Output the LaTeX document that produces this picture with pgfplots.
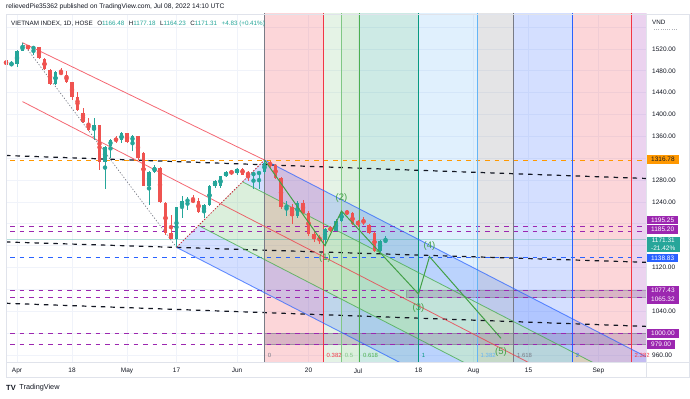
\documentclass[border=0pt]{standalone}
\usepackage{fontspec}
\setmainfont{Liberation Sans}
\usepackage{pgfplots}
\usepackage{pgfplotstable}
\pgfplotsset{compat=1.18}
\definecolor{tvup}{HTML}{26A69A}
\definecolor{tvdown}{HTML}{EF5350}
\definecolor{tvred}{HTML}{F23645}
\definecolor{tvgray}{HTML}{787B86}
\definecolor{tvlgreen}{HTML}{81C784}
\definecolor{tvgreen}{HTML}{4CAF50}
\definecolor{tvteal}{HTML}{089981}
\definecolor{tvlblue}{HTML}{64B5F6}
\definecolor{tvblue}{HTML}{2962FF}
\definecolor{tvpurple}{HTML}{9C27B0}
\definecolor{tvorange}{HTML}{FF9800}
\definecolor{tvtext}{HTML}{131722}
\definecolor{tvgrid}{HTML}{F0F3FA}
\definecolor{tvborder}{HTML}{E0E3EB}
\definecolor{wavegreen}{HTML}{43A047}
\tikzset{
  zlab/.style={anchor=base west, inner sep=0pt, xshift=3.2bp, yshift=4.8bp, font=\fontsize{6}{7}\selectfont, text=#1},
  wlab/.style={text=wavegreen, font=\fontsize{9.5}{10}\selectfont},
  tag/.style={anchor=west, inner xsep=4.3bp, inner ysep=0pt, minimum height=8.7bp, font=\fontsize{6.5}{7}\selectfont, text=white},
}

\pgfplotstableread{
x o h l c
-1 1491 1498 1488 1493
0 1493 1518 1487 1516
1 1517 1531.5 1516 1526
3 1521 1524 1509 1523
7 1456 1479 1454 1478
14 1371 1394 1354 1380
16 1313 1342 1264 1341
17 1342 1355 1321 1354
19 1353 1369 1348 1366
21 1350 1362 1333 1361.5
24 1270 1296 1234 1295
25 1295 1307 1293 1304
29 1173 1231 1157 1230
30 1230 1251 1211 1242
31 1242 1249 1225 1243
34 1221 1236 1210 1234.5
35 1234.5 1271 1233 1270
36 1270 1280 1266 1278
37 1270 1288 1266 1287
38 1287 1297 1285 1295
40 1293 1303 1290 1301
43 1290 1295 1263 1292
44 1292 1296 1264 1294
45 1294 1316.78 1292 1312
49 1230 1242 1214 1233
51 1214.5 1242 1210 1239
56 1171 1192 1160 1190
58 1187 1208 1186 1205
59 1205 1223.5 1203 1221
66 1151 1170 1149 1169
67 1166.48 1177.18 1164.23 1171.31
}\upT

\pgfplotstableread{
x o h l c
-2 1499 1501 1489 1491
2 1526 1528 1519 1521
4 1523 1524 1502 1503
5 1502 1503 1482 1483
6 1482 1483 1455 1456
8 1478 1485 1472 1474
9 1473 1479 1458 1459
10 1459 1460 1427 1433
11 1433 1442 1406 1408
12 1403 1412 1384 1386
13 1385 1394 1369 1371
15 1380 1381 1299 1313
18 1355 1360 1348 1353
20 1366 1367 1348 1349
22 1360 1361 1317 1321
23 1330 1331 1269 1270
26 1303 1304 1239 1240
27 1239 1240 1180 1183
28 1184 1216 1172 1173
32 1244 1252 1238 1240
33 1242 1248 1219 1221
39 1296 1298 1290 1293
41 1301 1303 1289 1290
42 1293 1296 1278 1290
46 1311 1315 1303 1308
47 1308 1310 1282 1284
48 1284 1286 1228 1230
50 1231 1236 1199 1214.5
52 1239 1243 1218 1219
53 1219 1224 1178 1181
54 1181 1185 1166 1173
55 1175 1180 1163 1171
57 1192 1196 1185 1189
60 1222 1226 1216 1219
61 1219 1221 1198 1199
62 1204 1207 1195 1199
63 1207 1212 1198 1201
64 1198 1200 1182 1183
65 1183 1185 1148 1151
}\downT

\begin{document}
\begin{tikzpicture}
\useasboundingbox (0,0) rectangle (690bp,399bp);
\fill[white] (0,0) rectangle (690bp,399bp);
\begin{axis}[
  at={(6bp,36.7bp)}, anchor=south west,
  scale only axis, width=640.7bp, height=348.3bp,
  xmin=-2, xmax=114.49, ymin=946.6, ymax=1584.05,
  clip mode=individual,
  axis line style={draw=tvborder, line width=0.6bp},
  grid=major, major grid style={draw=tvgrid, line width=0.8bp},
  tick style={draw=none},
  xtick={0,10,20,29,40,53,62,73,83,93,105.7},
  xticklabels={Apr,18,May,17,Jun,20,Jul,18,Aug,15,Sep},
  ytick={960,1000,...,1560},
  yticklabels={960.00,,1040.00,,1120.00,,,1240.00,1280.00,,1360.00,1400.00,1440.00,1480.00,1520.00,},
  yticklabel pos=right,
  ticklabel style={font=\fontsize{6.5}{7}\selectfont, text=tvtext},
  xticklabel style={yshift=-2.5bp},
  yticklabel style={anchor=west, xshift=2bp},
  zone/.style={draw=none, fill=#1, fill opacity=0.2, forget plot},
  pf/.style={draw=none, fill=#1, fill opacity=0.2, forget plot},
  zl/.style={draw=#1, line width=1bp, forget plot},
  hl/.style={draw=#1, line width=1bp, dash pattern=on 4.5bp off 5bp, forget plot},
  bl/.style={draw=tvtext, line width=1.2bp, dash pattern=on 4.5bp off 5bp, forget plot},
  band/.style={draw=tvgray, draw opacity=0.6, line width=0.7bp, fill=tvgray!70!tvpurple, fill opacity=0.28, forget plot},
  candle/.style={color=#1, only marks, mark=none, forget plot, error bars/y dir=both, error bars/y explicit, error bars/error mark=none},
]
% Fib time zones
\addplot[zone=tvred] coordinates {(45,940) (55.696,940) (55.696,1590) (45,1590)} -- cycle;
\addplot[zone=tvlgreen] coordinates {(55.696,940) (59,940) (59,1590) (55.696,1590)} -- cycle;
\addplot[zone=tvgreen] coordinates {(59,940) (62.304,940) (62.304,1590) (59,1590)} -- cycle;
\addplot[zone=tvteal] coordinates {(62.304,940) (73,940) (73,1590) (62.304,1590)} -- cycle;
\addplot[zone=tvlblue] coordinates {(73,940) (83.696,940) (83.696,1590) (73,1590)} -- cycle;
\addplot[zone=tvgray] coordinates {(83.696,940) (90.304,940) (90.304,1590) (83.696,1590)} -- cycle;
\addplot[zone=tvblue] coordinates {(90.304,940) (101,940) (101,1590) (90.304,1590)} -- cycle;
\addplot[zone=tvred] coordinates {(101,940) (111.696,940) (111.696,1590) (101,1590)} -- cycle;
\addplot[zone=tvpurple] coordinates {(111.696,940) (116,940) (116,1590) (111.696,1590)} -- cycle;
% Pitchfork fills
\addplot[pf=tvblue] coordinates {(29,1157) (33,1196.95) (116,766.18) (116,705.47)} -- cycle;
\addplot[pf=tvgreen] coordinates {(33,1196.95) (37,1236.9) (116,826.89) (116,766.18)} -- cycle;
\addplot[pf=tvgreen] coordinates {(37,1236.9) (41,1276.85) (116,887.6) (116,826.89)} -- cycle;
\addplot[pf=tvblue] coordinates {(41,1276.85) (45,1316.78) (116,948.29) (116,887.6)} -- cycle;
% Rectangles
\addplot[band] coordinates {(70.85,1065.32) (116,1065.32) (116,1077.43) (70.85,1077.43)} -- cycle;
\addplot[band] coordinates {(45,979) (116,979) (116,1000) (45,1000)} -- cycle;
% Horizontal levels
\addplot[hl=tvorange] coordinates {(-3,1316.78) (116,1316.78)};
\addplot[hl=tvpurple] coordinates {(-3,1195.25) (116,1195.25)};
\addplot[hl=tvpurple] coordinates {(-3,1185.20) (116,1185.20)};
\addplot[hl=tvblue] coordinates {(-3,1138.83) (116,1138.83)};
\addplot[hl=tvpurple] coordinates {(-3,1077.43) (116,1077.43)};
\addplot[hl=tvpurple] coordinates {(-3,1065.32) (116,1065.32)};
\addplot[hl=tvpurple] coordinates {(-3,1000) (116,1000)};
\addplot[hl=tvpurple] coordinates {(-3,979) (116,979)};
\addplot[draw=tvup, draw opacity=0.35, line width=0.8bp, forget plot] coordinates {(-3,1171.31) (116,1171.31)};
% Sloped dashed trend lines
\addplot[bl] coordinates {(-2,1325.1) (114.49,1283)};
\addplot[bl] coordinates {(-2,1166.8) (114.49,1129.6)};
\addplot[bl] coordinates {(-2,1054.6) (114.49,1012.3)};
% Zone lines
\addplot[zl=tvgray] coordinates {(45,940) (45,1590)};
\addplot[zl=tvred] coordinates {(55.696,940) (55.696,1590)};
\addplot[zl=tvlgreen] coordinates {(59,940) (59,1590)};
\addplot[zl=tvgreen] coordinates {(62.304,940) (62.304,1590)};
\addplot[zl=tvteal] coordinates {(73,940) (73,1590)};
\addplot[zl=tvlblue] coordinates {(83.696,940) (83.696,1590)};
\addplot[zl=tvgray] coordinates {(90.304,940) (90.304,1590)};
\addplot[zl=tvblue] coordinates {(101,940) (101,1590)};
\addplot[zl=tvred] coordinates {(111.696,940) (111.696,1590)};
% Pitchfork lines
\addplot[draw=tvred, draw opacity=0.75, line width=0.8bp, forget plot] coordinates {(1,1423.74) (116,826.89)};
\addplot[draw=tvblue, draw opacity=0.7, line width=0.9bp, forget plot] coordinates {(45,1316.78) (116,948.29)};
\addplot[draw=tvblue, draw opacity=0.7, line width=0.9bp, forget plot] coordinates {(29,1157) (116,705.47)};
\addplot[draw=tvgreen, draw opacity=0.8, line width=0.8bp, forget plot] coordinates {(33,1196.95) (116,766.18)};
\addplot[draw=tvgreen, draw opacity=0.8, line width=0.8bp, forget plot] coordinates {(41,1276.85) (116,887.6)};
\addplot[draw=tvred, draw opacity=0.75, line width=0.8bp, forget plot] coordinates {(1,1531.5) (45,1316.78)};
\addplot[draw=tvgray, line width=0.7bp, dash pattern=on 1.2bp off 1.8bp, forget plot] coordinates {(1,1531.5) (29,1157)};
\addplot[draw=tvred!80!black, line width=0.8bp, dash pattern=on 1.5bp off 1.5bp, forget plot] coordinates {(29,1157) (45,1316.78)};
% Candles: wicks and bodies
\addplot[candle=tvup, error bars/error bar style={line width=0.9bp}]
  table[x=x, y expr={(\thisrow{h}+\thisrow{l})/2}, y error expr={(\thisrow{h}-\thisrow{l})/2}] {\upT};
\addplot[candle=tvup, error bars/error bar style={line width=3.8bp}]
  table[x=x, y expr={(\thisrow{o}+\thisrow{c})/2}, y error expr={max(abs(\thisrow{c}-\thisrow{o})/2,0.9)}] {\upT};
\addplot[candle=tvdown, error bars/error bar style={line width=0.9bp}]
  table[x=x, y expr={(\thisrow{h}+\thisrow{l})/2}, y error expr={(\thisrow{h}-\thisrow{l})/2}] {\downT};
\addplot[candle=tvdown, error bars/error bar style={line width=3.8bp}]
  table[x=x, y expr={(\thisrow{o}+\thisrow{c})/2}, y error expr={max(abs(\thisrow{c}-\thisrow{o})/2,0.9)}] {\downT};
% Elliott wave
\addplot[draw=wavegreen, line width=1bp, forget plot] coordinates {(45,1316.78) (56,1160) (59,1223.5) (73,1071.6) (75,1139.9) (88,990.5)};
\node[wlab, yshift=-12.3bp] at (axis cs:56,1160) {(1)};
\node[wlab, yshift=12.7bp] at (axis cs:59,1223.5) {(2)};
\node[wlab, yshift=-14.3bp] at (axis cs:73,1071.6) {(3)};
\node[wlab, yshift=10.7bp] at (axis cs:75,1139.9) {(4)};
\node[wlab, yshift=-13.4bp] at (axis cs:88,990.5) {(5)};
% Zone labels
\node[zlab=tvgray] at (axis cs:45,946.6) {0};
\node[zlab=tvred] at (axis cs:55.696,946.6) {0.382};
\node[zlab=tvlgreen] at (axis cs:59,946.6) {0.5};
\node[zlab=tvgreen] at (axis cs:62.304,946.6) {0.618};
\node[zlab=tvteal] at (axis cs:73,946.6) {1};
\node[zlab=tvlblue] at (axis cs:83.696,946.6) {1.382};
\node[zlab=tvgray] at (axis cs:90.304,946.6) {1.618};
\node[zlab=tvblue] at (axis cs:101,946.6) {2};
\node[zlab=tvred] at (axis cs:111.696,946.6) {2.382};
\end{axis}
\begin{scope}[x=1bp,y=1bp]
% borders
\draw[tvborder, line width=0.7bp] (6,385) rectangle (689.5,21.3);
\draw[tvborder, line width=0.7bp] (646.7,385) -- (646.7,21.3);
\draw[tvborder, line width=0.7bp] (6,36.7) -- (689.5,36.7);
% header
\node[anchor=west, inner sep=0pt, font=\fontsize{6.7}{8}\selectfont, text=tvtext] at (6,392) {relievedPie35362 published on TradingView.com, Jul 08, 2022 14:10 UTC};
\node[anchor=west, inner sep=0pt, font=\fontsize{6.3}{7}\selectfont, text=tvtext] at (11,374.7) {VIETNAM INDEX, 1D, HOSE\hspace{4.5bp}O\textcolor{tvup}{1166.48}\hspace{4.5bp}H\textcolor{tvup}{1177.18}\hspace{4.5bp}L\textcolor{tvup}{1164.23}\hspace{4.5bp}C\textcolor{tvup}{1171.31}\hspace{4.5bp}\textcolor{tvup}{+4.83 (+0.41\%)}};
\node[anchor=west, inner sep=0pt, font=\fontsize{6.3}{7}\selectfont, text=tvtext] at (652,376.3) {VND};
\draw[tvgray!60, line width=0.5bp, dash pattern=on 0.6bp off 1.6bp] (654,369.7) -- (677,369.7);
% price tags
\node[tag, fill=tvorange, text=tvtext] at (646.7,239.7) {1316.78};
\node[tag, fill=tvpurple] at (646.7,179) {1195.25};
\node[tag, fill=tvpurple] at (646.7,169.7) {1185.20};
\node[tag, fill=tvup, align=center, inner ysep=1.2bp, font=\fontsize{6.5}{8.3}\selectfont] at (646.7,154.4) {1171.31\\-21.42\%};
\node[tag, fill=tvblue] at (646.7,141) {1138.83};
\node[tag, fill=tvpurple] at (646.7,108.7) {1077.43};
\node[tag, fill=tvpurple] at (646.7,99.3) {1065.32};
\node[tag, fill=tvpurple] at (646.7,65.7) {1000.00};
\node[tag, fill=tvpurple] at (646.7,54.5) {979.00};
% logo
\node[anchor=west, inner sep=0pt, font=\fontsize{7.5}{8}\bfseries, text=tvtext] at (6,11) {TV};
\node[anchor=west, inner sep=0pt, font=\fontsize{7.3}{8}\selectfont, text=tvtext] at (19.3,11) {TradingView};
\end{scope}
\end{tikzpicture}
\end{document}
